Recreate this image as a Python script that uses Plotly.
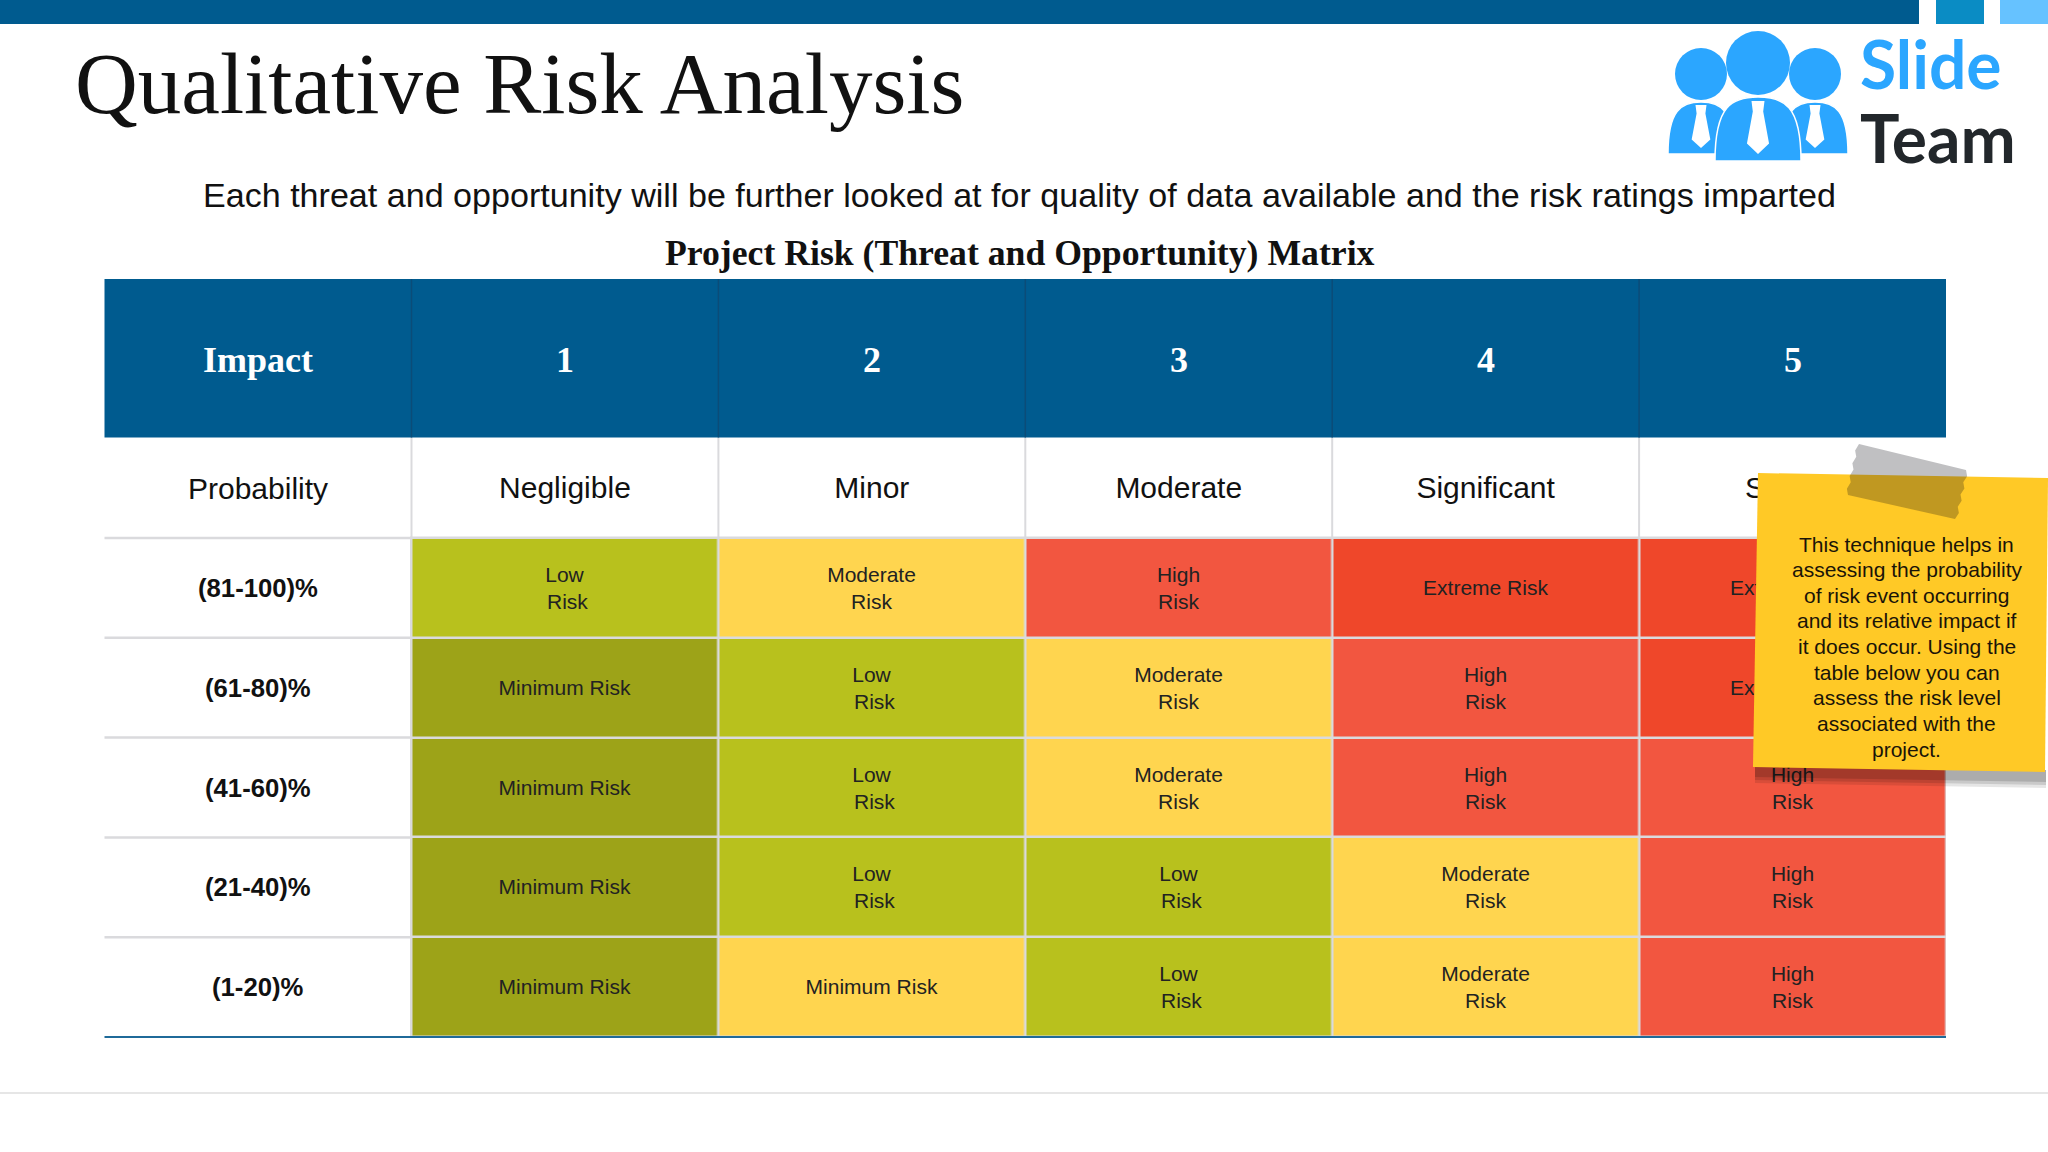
import plotly.graph_objects as go

# table contents
impact_scores = ["1", "2", "3", "4", "5"]
impact_names = ["Negligible", "Minor", "Moderate", "Significant", "Severe"]
probabilities = ["(81-100)%", "(61-80)%", "(41-60)%", "(21-40)%", "(1-20)%"]

# 0 minimum, 1 low, 2 moderate, 3 high, 4 extreme
row_81_100 = [1, 2, 3, 4, 4]
row_61_80 = [0, 1, 2, 3, 4]
row_41_60 = [0, 1, 2, 3, 3]
row_21_40 = [0, 1, 1, 2, 3]
row_1_20 = [0, 2, 1, 2, 3]

labels_81_100 = ["Low", "Moderate", "High", "Extreme Risk", "Extreme Risk"]
labels_61_80 = ["Minimum Risk", "Low", "Moderate", "High", "Extreme Risk"]
labels_41_60 = ["Minimum Risk", "Low", "Moderate", "High", "High"]
labels_21_40 = ["Minimum Risk", "Low", "Low", "Moderate", "High"]
labels_1_20 = ["Minimum Risk", "Minimum Risk", "Low", "Moderate", "High"]

risk_colors = ["#9DA318", "#B8C11D", "#FFD54F", "#F25640", "#EF472A"]

note_lines = [
    "This technique helps in",
    "assessing the probability",
    "of risk event occurring",
    "and its relative impact if",
    "it does occur. Using the",
    "table below you can",
    "assess the risk level",
    "associated with the",
    "project.",
]

W, H = 2048, 1152
BLUE = "#005B8F"
GRID = "#DADADD"
SANS = "Liberation Sans"
SERIF = "Liberation Serif"

table_left, first_col, table_right = 104.5, 411.5, 1946
header_top, header_bottom, names_bottom, table_bottom = 279, 437.5, 538, 1037
col_w = (table_right - first_col) / 5


def cell_text(label):
    # two line cells, the second line of "Low Risk" sits a bit to the right
    if label == "Low":
        return "Low<br>\u00a0Risk"
    if label in ("Moderate", "High"):
        return label + "<br>Risk"
    return label


z = [row_81_100, row_61_80, row_41_60, row_21_40, row_1_20]
texts = [[cell_text(v) for v in row] for row in
         [labels_81_100, labels_61_80, labels_41_60, labels_21_40, labels_1_20]]

scale = []
for i, c in enumerate(risk_colors):
    scale.append([i / 5, c])
    scale.append([(i + 1) / 5, c])

fig = go.Figure()

fig.add_trace(go.Heatmap(
    x=impact_scores,
    y=probabilities,
    z=z,
    text=texts,
    texttemplate="%{text}",
    textfont=dict(family=SANS, size=21, color="#222222"),
    colorscale=scale,
    zmin=-0.5,
    zmax=4.5,
    showscale=False,
    xgap=2.5,
    ygap=2.5,
    hoverinfo="skip",
    xaxis="x2",
    yaxis="y2",
))

# the impact names are a trace so the sticky note can lie over them
fig.add_trace(go.Scatter(
    x=impact_scores,
    y=[490.5] * len(impact_scores),
    mode="text",
    text=impact_names,
    textposition="middle center",
    textfont=dict(family=SANS, size=30, color="#111111"),
    hoverinfo="skip",
    cliponaxis=False,
    xaxis="x2",
    yaxis="y",
))

shapes = []


def rect(x0, y0, x1, y1, color, layer="above"):
    shapes.append(dict(type="rect", xref="x", yref="y", x0=x0, y0=y0, x1=x1, y1=y1,
                       fillcolor=color, line_width=0, layer=layer))


def line(x0, y0, x1, y1, color, width=2, layer="above"):
    shapes.append(dict(type="line", xref="x", yref="y", x0=x0, y0=y0, x1=x1, y1=y1,
                       line=dict(color=color, width=width), layer=layer))


def poly(points, color):
    path = "M " + " L ".join(f"{x},{y}" for x, y in points) + " Z"
    shapes.append(dict(type="path", xref="x", yref="y", path=path, fillcolor=color,
                       line_width=0, layer="above"))


def circle(cx, cy, r, color):
    shapes.append(dict(type="circle", xref="x", yref="y", x0=cx - r, y0=cy - r, x1=cx + r, y1=cy + r,
                       fillcolor=color, line_width=0, layer="above"))


# slide furniture
rect(0, 0, 1919, 24, BLUE)
rect(1936, 0, 1984, 24, "#0A8CC4")
rect(2000, 0, 2048, 24, "#66C2FF")
line(0, 1093, W, 1093, "#DEDEDE", 1.5)

# table frame
rect(table_left, header_top, table_right, header_bottom, BLUE)
rect(first_col - 1.5, names_bottom - 1.5, table_right, table_bottom, GRID, layer="below")
for i in range(6):
    x = first_col + i * col_w
    if i < 5:
        line(x, header_top, x, header_bottom, "#0B4C78", 1.5)
        line(x, header_bottom, x, names_bottom, GRID, 2, layer="below")
for i in range(1, 5):
    y = names_bottom + i * (table_bottom - names_bottom) / 5
    line(table_left, y, first_col, y, GRID, 2.5)
line(table_left, names_bottom, first_col, names_bottom, GRID, 2.5)
line(table_left, table_bottom, table_right, table_bottom, "#1F6A99", 2)

# logo
LOGO = "#2BA6FF"
circle(1701, 74, 26, LOGO)
circle(1815, 74, 26, LOGO)
circle(1758, 63, 32, LOGO)


def body(cx, top, half, bottom):
    path = (f"M {cx - half},{bottom} C {cx - half},{top + 8} {cx - half * 0.6},{top} {cx},{top} "
            f"C {cx + half * 0.6},{top} {cx + half},{top + 8} {cx + half},{bottom} Z")
    shapes.append(dict(type="path", xref="x", yref="y", path=path, fillcolor=LOGO,
                       line=dict(color="white", width=1.5), layer="above"))


def tie(cx, top, w, h):
    poly([(cx - w * 0.5, top), (cx + w * 0.5, top), (cx + w * 0.4, top + h * 0.2),
          (cx + w * 0.85, top + h * 0.8), (cx, top + h), (cx - w * 0.85, top + h * 0.8),
          (cx - w * 0.4, top + h * 0.2)], "white")


body(1701, 102, 33, 154)
body(1815, 102, 33, 154)
tie(1701, 105, 11, 43)
tie(1815, 105, 11, 43)
body(1758, 97, 43, 161)
tie(1758, 101, 13, 53)

# sticky note, soft shadow first
for off, alpha in [(18, 0.10), (15, 0.12), (12, 0.14)]:
    poly([(1755, 765), (1755, 765 + off), (2046, 770 + off), (2046, 770)], f"rgba(0,0,0,{alpha})")
poly([(1758, 473), (2048, 478), (2045, 772), (1753, 767)], "#FFC926")

# tape with torn ends
tape = []
n = 8
for i in range(n + 1):
    t = i / n
    tape.append((1859 - 11 * t - (2.5 if i % 2 else 0), 444 + 51 * t))
for i in range(n + 1):
    t = i / n
    tape.append((1955 + 11 * t + (2.5 if i % 2 else 0), 519 - 49 * t))
poly(tape, "rgba(10,10,20,0.26)")

annotations = []


def label(text, x, y, size, family=SANS, color="#111111", bold=False, xanchor="center", xref="x", yref="y"):
    annotations.append(dict(text=f"<b>{text}</b>" if bold else text, x=x, y=y, xref=xref, yref=yref,
                            xanchor=xanchor, yanchor="middle", showarrow=False,
                            font=dict(family=family, size=size, color=color)))


label("Qualitative Risk Analysis", 73, 83, 87, family=SERIF, xanchor="left")
label("Each threat and opportunity will be further looked at for quality of data available and the risk ratings imparted",
      1019.5, 195, 34.1)
label("Project Risk (Threat and Opportunity) Matrix", 1020, 253, 35.7, family=SERIF, bold=True)

label("Slide", 1858, 63.5, 66, family="Lato", color=LOGO, bold=True, xanchor="left")
label("Team", 1858, 137.5, 66, family="Lato", color="#22272B", bold=True, xanchor="left")

first_center = (table_left + first_col) / 2
label("Impact", first_center, 360, 36, family=SERIF, color="white", bold=True)
label("Probability", first_center, 488.5, 30)
# a category axis takes the position of the score here, not its text
for i, score in enumerate(impact_scores):
    label(score, i, 360, 36, family=SERIF, color="white", bold=True, xref="x2")
for p in probabilities:
    label(p, first_center, p, 25.7, bold=True, yref="y2")

note_y = [544, 569.7, 595.7, 620.7, 646.7, 672.3, 697.3, 723, 749]
for text, y in zip(note_lines, note_y):
    label(text, 1906.7, y, 21, color="#1A1408")

fig.update_layout(
    width=W,
    height=H,
    margin=dict(l=0, r=0, t=0, b=0),
    paper_bgcolor="white",
    plot_bgcolor="rgba(0,0,0,0)",
    showlegend=False,
    shapes=shapes,
    annotations=annotations,
    xaxis=dict(range=[0, W], domain=[0, 1], visible=False, fixedrange=True),
    yaxis=dict(range=[H, 0], domain=[0, 1], visible=False, fixedrange=True),
    xaxis2=dict(type="category", domain=[first_col / W, table_right / W], anchor="y2",
                range=[-0.5, 4.5], visible=False, fixedrange=True),
    yaxis2=dict(type="category", domain=[1 - table_bottom / H, 1 - names_bottom / H], anchor="x2",
                range=[4.5, -0.5], visible=False, fixedrange=True),
)

fig.write_html("out.html", config=dict(displayModeBar=False),
               post_script="document.body.style.margin='0';")
